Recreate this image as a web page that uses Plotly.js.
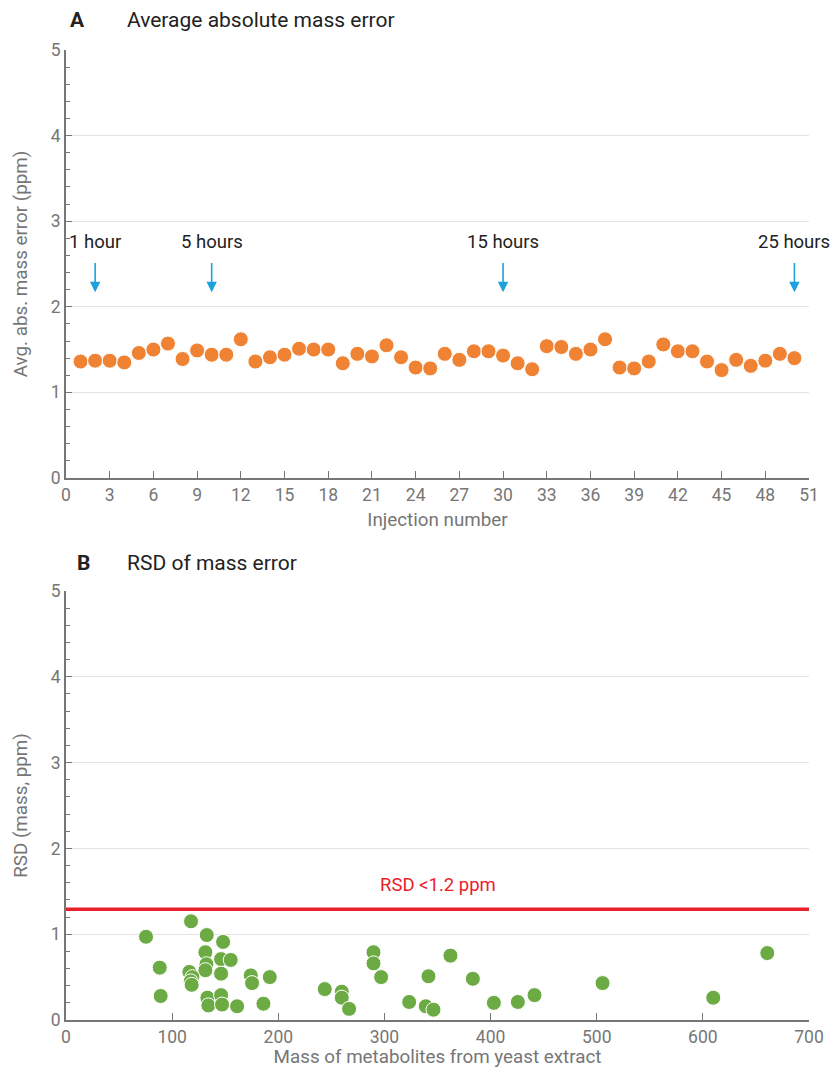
<!DOCTYPE html>
<html><head><meta charset="utf-8">
<script src="https://cdn.plot.ly/plotly-3.0.1.min.js"></script>
<style>body{margin:0;background:#fff}#chart{width:835px;height:1068px}</style>
</head><body><div id="chart"></div>
<script>
// Panel A: average absolute mass error per injection
const injection = [];
for (let i = 1; i <= 50; i++) injection.push(i);
const avgAbsError = [1.36,1.37,1.37,1.35,1.46,1.50,1.57,1.39,1.49,1.44,
                     1.44,1.62,1.36,1.41,1.44,1.51,1.50,1.50,1.34,1.45,
                     1.42,1.55,1.41,1.29,1.28,1.45,1.38,1.48,1.48,1.43,
                     1.34,1.27,1.54,1.53,1.45,1.50,1.62,1.29,1.28,1.36,
                     1.56,1.48,1.48,1.36,1.26,1.38,1.31,1.37,1.45,1.40];
const timeLabels = ["1 hour","5 hours","15 hours","25 hours"];
const timeInjections = [2,10,30,50];

// Panel B: RSD of mass error vs metabolite mass
const metMass = [75.4,117.8,132.6,148,131.3,132.3,131.3,146.1,155.2,88.3,
                 116.2,119.1,117.5,118.4,146.1,174.1,175.3,192,89.2,133.2,
                 134.1,146.1,147,161.2,186,
                 243.8,259.8,259.8,266.7,289.7,289.7,296.9,323.3,339,341.5,
                 346.2,362.2,383.3,403.1,425.7,441.4,
                 505.5,609.8,660.7];
const rsd = [0.97,1.15,0.99,0.91,0.79,0.65,0.58,0.71,0.70,0.61,
             0.56,0.50,0.45,0.41,0.54,0.52,0.43,0.50,0.28,0.26,
             0.17,0.29,0.18,0.16,0.19,
             0.36,0.33,0.26,0.13,0.79,0.66,0.50,0.21,0.16,0.51,
             0.12,0.75,0.48,0.20,0.21,0.29,
             0.43,0.26,0.78];
const rsdLimit = 1.29;
const rsdLabel = "RSD <1.2 ppm";

const grey = '#767676';
const tickFont = {family:'Roboto, sans-serif', size:17.5, color:grey};
const titleFont = {family:'Roboto, sans-serif', size:18.8, color:grey};

const traces = [
  {x: injection, y: avgAbsError, type:'scatter', mode:'markers', xaxis:'x', yaxis:'y',
   marker:{size:15, color:'#ef8233', line:{color:'#ffffff', width:1}}, hoverinfo:'skip'},
  {x: metMass, y: rsd, type:'scatter', mode:'markers', xaxis:'x2', yaxis:'y2',
   marker:{size:15, color:'#6cab43', line:{color:'#ffffff', width:1}}, hoverinfo:'skip'}
];

function yax(domain, title) {
  return {domain: domain, range:[0,5], tickvals:[0,1,2,3,4,5], ticks:'inside', ticklen:6,
    tickcolor:grey, showline:true, linecolor:grey, linewidth:1.8, showgrid:true,
    gridcolor:'#e3e3e3', gridwidth:1, zeroline:false, tickfont:tickFont,
    minor:{dtick:0.2, ticks:'inside', ticklen:4, tickcolor:grey, showgrid:false},
    title:{text:title, font:titleFont, standoff:18}, fixedrange:true};
}
function xax(anchor, range, dtick, title) {
  return {anchor: anchor, range: range, dtick: dtick, tick0:0, ticks:'inside', ticklen:7,
    tickcolor:grey, showline:true, linecolor:grey, linewidth:1.8, showgrid:false,
    zeroline:false, tickfont:tickFont, title:{text:title, font:titleFont, standoff:9},
    fixedrange:true};
}

const annotations = [];
const titleFontMain = {family:'Roboto, sans-serif', size:21, color:'#222'};
annotations.push({xref:'paper', yref:'paper', x:0.016, y:1.031, xanchor:'center', yanchor:'middle',
  text:'<b>A</b>', showarrow:false, font:titleFontMain});
annotations.push({xref:'paper', yref:'paper', x:0.0794, y:1.031, xanchor:'left', yanchor:'middle',
  text:'Average absolute mass error', showarrow:false, font:titleFontMain});
annotations.push({xref:'paper', yref:'paper', x:0.023, y:0.4711, xanchor:'center', yanchor:'middle',
  text:'<b>B</b>', showarrow:false, font:titleFontMain});
annotations.push({xref:'paper', yref:'paper', x:0.0794, y:0.4711, xanchor:'left', yanchor:'middle',
  text:'RSD of mass error', showarrow:false, font:titleFontMain});

for (let i = 0; i < timeLabels.length; i++) {
  annotations.push({xref:'x', yref:'y', x:timeInjections[i], y:2.76, text:timeLabels[i],
    showarrow:false, xanchor:'center', yanchor:'middle',
    font:{family:'Roboto, sans-serif', size:18.5, color:'#222'}});
  annotations.push({xref:'x', yref:'y', axref:'x', ayref:'y', x:timeInjections[i], y:2.17,
    ax:timeInjections[i], ay:2.53, text:'', showarrow:true, arrowhead:2, arrowsize:1.3,
    arrowwidth:1.6, arrowcolor:'#1da1dc', standoff:0, startstandoff:0});
}
annotations.push({xref:'x2', yref:'y2', x:350, y:1.57, text:rsdLabel, showarrow:false,
  xanchor:'center', yanchor:'middle', font:{family:'Roboto, sans-serif', size:18.5, color:'#e8212b'}});

const layout = {
  width:835, height:1068, paper_bgcolor:'#fff', plot_bgcolor:'#fff', showlegend:false,
  margin:{l:66, r:26, t:50, b:48},
  xaxis: xax('y', [0,51], 3, 'Injection number'),
  yaxis: yax([0.5588,1], 'Avg. abs. mass error (ppm)'),
  xaxis2: xax('y2', [0,700], 100, 'Mass of metabolites from yeast extract'),
  yaxis2: yax([0,0.4423], 'RSD (mass, ppm)'),
  shapes:[{type:'line', xref:'x2', yref:'y2', x0:0, x1:700, y0:rsdLimit, y1:rsdLimit,
    line:{color:'#e8212b', width:3.5}, layer:'below'}],
  annotations: annotations
};
Plotly.newPlot('chart', traces, layout, {displayModeBar:false, staticPlot:true});
</script></body></html>
